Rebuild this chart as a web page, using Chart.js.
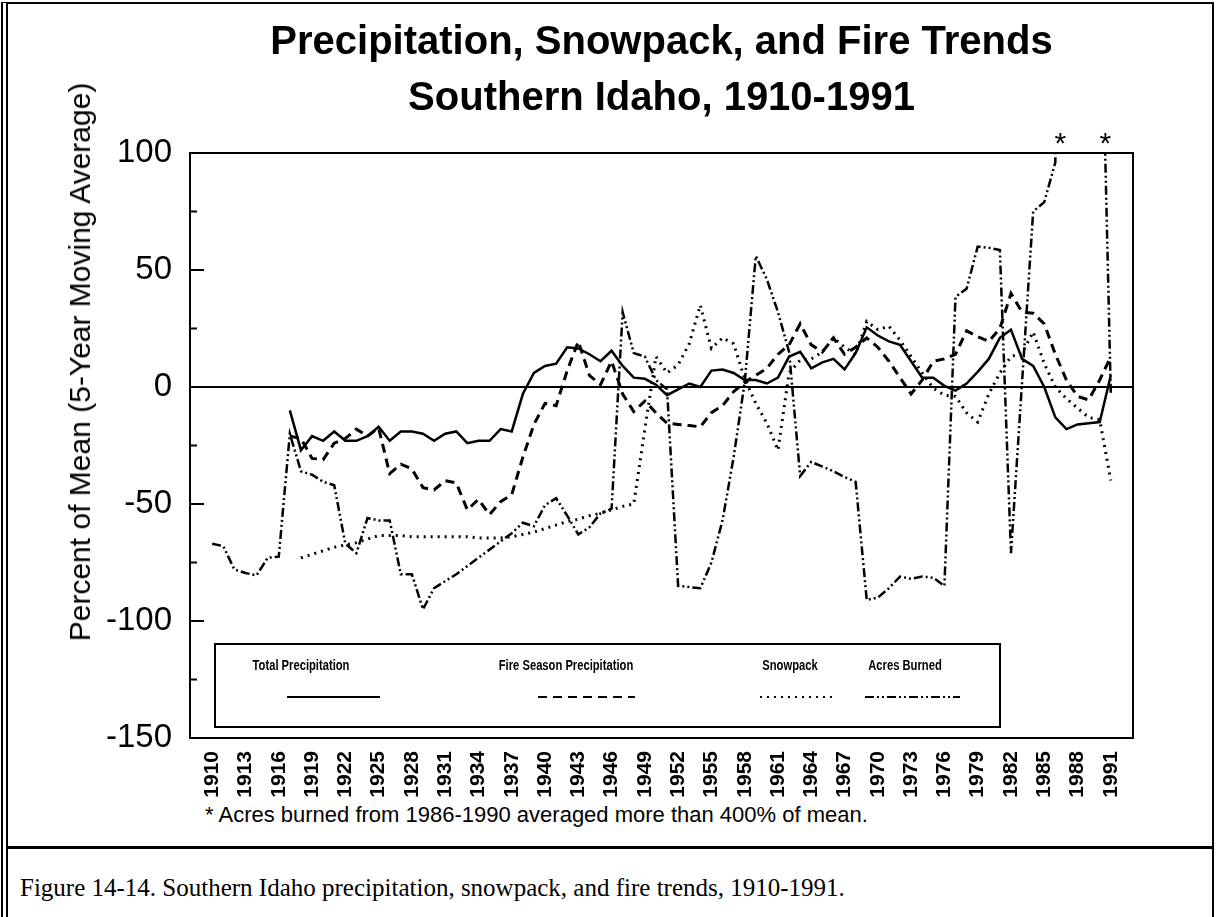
<!DOCTYPE html>
<html>
<head>
<meta charset="utf-8">
<title>Precipitation, Snowpack, and Fire Trends</title>
<script src="https://cdn.jsdelivr.net/npm/chart.js@4.4.1/dist/chart.umd.min.js"></script>
<style>
  html, body { margin: 0; padding: 0; background: #fff; }
  #page { position: relative; width: 1218px; height: 917px; overflow: hidden; font-family: "Liberation Sans", Arial, sans-serif; color: #000; }
  #frame { position: absolute; left: 1px; top: 2px; width: 1213px; height: 930px; border-left: 7px double #000; border-top: 2px solid #000; border-right: 2px solid #000; box-sizing: border-box; }
  #divider { position: absolute; left: 8px; top: 846px; width: 1206px; height: 3px; background: #000; }
  #chart { position: absolute; left: 0; top: 0; }
  #ytitle { position: absolute; left: 80px; top: 362px; transform: translate(-50%, -50%) rotate(-90deg); font-size: 30px; white-space: nowrap; }
  #note { position: absolute; left: 205px; top: 802px; font-size: 22px; line-height: 26px; white-space: nowrap; }
  #caption { position: absolute; left: 20px; top: 874px; font-family: "Liberation Serif", "Times New Roman", serif; font-size: 25px; line-height: 28px; white-space: nowrap; }
</style>
</head>
<body>
<div id="page">
  <div id="frame"></div>
  <div id="divider"></div>
  <canvas id="chart" width="1218" height="800"></canvas>
  <div id="ytitle">Percent of Mean (5-Year Moving Average)</div>
  <div id="note">* Acres burned from 1986-1990 averaged more than 400% of mean.</div>
  <div id="caption">Figure 14-14. Southern Idaho precipitation, snowpack, and fire trends, 1910-1991.</div>
</div>
<script>
// Données (pourcentage de la moyenne, moyenne mobile sur 5 ans)
const titleLines = ['Precipitation, Snowpack, and Fire Trends', 'Southern Idaho, 1910-1991'];
const seriesNames = ['Total Precipitation', 'Fire Season Precipitation', 'Snowpack', 'Acres Burned'];

const years = [
  1910, 1911, 1912, 1913, 1914, 1915, 1916, 1917, 1918, 1919,
  1920, 1921, 1922, 1923, 1924, 1925, 1926, 1927, 1928, 1929,
  1930, 1931, 1932, 1933, 1934, 1935, 1936, 1937, 1938, 1939,
  1940, 1941, 1942, 1943, 1944, 1945, 1946, 1947, 1948, 1949,
  1950, 1951, 1952, 1953, 1954, 1955, 1956, 1957, 1958, 1959,
  1960, 1961, 1962, 1963, 1964, 1965, 1966, 1967, 1968, 1969,
  1970, 1971, 1972, 1973, 1974, 1975, 1976, 1977, 1978, 1979,
  1980, 1981, 1982, 1983, 1984, 1985, 1986, 1987, 1988, 1989,
  1990, 1991
];

const totalPrecip = [
  null, null, null, null, null, null, null, -10, -27, -21,
  -23, -19, -23, -23, -21, -17, -23, -19, -19, -20,
  -23, -20, -19, -24, -23, -23, -18, -19, -3, 6,
  9, 10, 17, 16.5, 14, 11, 15.5, 9, 4, 3.5,
  1, -3.5, -1, 1.5, 0, 7, 7.5, 6, 3, 3,
  1.5, 4, 13, 15, 8, 10.5, 12, 7.5, 14.5, 25.5,
  22, 19.5, 18, 11, 4, 4, 0.5, -1.5, 1.5, 6.5,
  12, 21, 24.5, 12, 9, 0, -13, -18, -16, -15.5,
  -15, 5
];

const fireSeasonPrecip = [
  null, null, null, null, null, null, null, -21, -22, -30.5,
  -31, -24, -22, -18, -21, -17.5, -37, -33, -35, -43,
  -44, -40, -41, -52.5, -48, -54.5, -49, -46, -30, -16,
  -7, -8, 7, 19.5, 5, 1, 11, -3, -10.5, -6,
  -11, -15.5, -16, -16.5, -17, -11, -8, -2, 2, 5,
  8, 14, 18, 27, 18, 15, 21, 14, 17, 21,
  17, 11, 4, -3, 3, 11, 12, 14, 24, 21.5,
  19.5, 25, 40, 32, 31.5, 27, 14, 3, -4, -5.5,
  3, 13
];

const snowpack = [
  null, null, null, null, null, null, null, null, -73, -71.5,
  -70, -68.5, -67.5, -66.5, -65, -63.5, -63.5, -63.5, -64, -64,
  -64, -64, -64, -64, -64.5, -64.5, -64.5, -64, -63, -62,
  -60.5, -59, -57.5, -56.5, -55, -54, -52.5, -51, -50, -18,
  13, 6, 9.5, 18.5, 35, 16.5, 21, 18.5, 3.5, -7,
  -15.5, -27, 6, 11.5, 12, 15, 21, 17, 14, 28,
  24.5, 26, 20, 13, 6, -0.5, -3.5, -4, -11, -15,
  -3, 6, 13, 14.5, 23.5, 10, 0, -5, -9, -13,
  -14, -40
];

// 1987-1989 sortent du graphique (plus de 400 % de la moyenne)
const acresBurned = [
  -67, -68, -78, -79.5, -80.5, -73, -72.5, -20, -36, -37.5,
  -40.5, -42, -67, -71, -56, -57, -57, -80, -80, -95,
  -86, -83, -80, -76.5, -73, -69.5, -66, -62.5, -58, -59.5,
  -50.5, -47.5, -55, -63, -60, -54, -52, 32, 14.5, 13,
  3, -1, -85, -85.5, -86, -75, -57, -30, 2, 56,
  46, 32, 15, -38, -32, -34, -36, -38.5, -40.5, -91,
  -90, -86, -81, -82, -81, -81.5, -85, 38.5, 42, 60,
  59.5, 58.5, -71, 2, 75, 79, 96, 520, 640, 560,
  200, -3
];

const xTickYears = [1910, 1913, 1916, 1919, 1922, 1925, 1928, 1931, 1934, 1937, 1940, 1943, 1946, 1949,
  1952, 1955, 1958, 1961, 1964, 1967, 1970, 1973, 1976, 1979, 1982, 1985, 1988, 1991];
const yTickLabels = [100, 50, 0, -50, -100, -150];
const yMinorTicks = [75, 25, -25, -75, -125];
const yMajorTicks = [50, -50, -100];
const asteriskYears = [1986.45, 1990.5];

const FONT = '"Liberation Sans", Arial, sans-serif';
const dashes = [[], [9, 6], [2, 5], [9, 3, 2, 3, 2, 3]];
const widths = [2.5, 3, 3, 2.5];

function toPoints(values) {
    return years.map((yr, i) => ({ x: yr, y: values[i] }));
}

// Cadre, petites graduations, astérisques et légende encadrée
const decorations = {
    id: 'decorations',
    afterDatasetsDraw(chart) {
        const ctx = chart.ctx;
        const area = chart.chartArea;
        const xs = chart.scales.x;
        const ys = chart.scales.y;
        ctx.save();
        ctx.strokeStyle = '#000';
        ctx.fillStyle = '#000';
        ctx.setLineDash([]);

        ctx.lineWidth = 2;
        ctx.strokeRect(area.left, area.top, area.right - area.left, area.bottom - area.top);

        yMajorTicks.forEach(v => {
            const y = ys.getPixelForValue(v);
            ctx.beginPath(); ctx.moveTo(area.left, y); ctx.lineTo(area.left + 14, y); ctx.stroke();
        });
        yMinorTicks.forEach(v => {
            const y = ys.getPixelForValue(v);
            ctx.beginPath(); ctx.moveTo(area.left, y); ctx.lineTo(area.left + 7, y); ctx.stroke();
        });

        ctx.font = '30px ' + FONT;
        ctx.textAlign = 'center';
        ctx.textBaseline = 'middle';
        asteriskYears.forEach(yr => {
            ctx.fillText('*', xs.getPixelForValue(yr), area.top - 8);
        });

        // légende
        const box = { left: area.left + 25, top: area.top + 491, width: 785, height: 83 };
        ctx.lineWidth = 2;
        ctx.strokeRect(box.left, box.top, box.width, box.height);
        const textX = [86, 351, 575, 690];
        const sample = [[72, 165], [323, 420], [545, 620], [650, 745]];
        ctx.font = 'bold 14px ' + FONT;
        ctx.textBaseline = 'middle';
        seriesNames.forEach((name, i) => {
            ctx.save();
            ctx.translate(box.left + textX[i], box.top + 22);
            ctx.scale(0.8, 1);
            ctx.fillText(name, 0, 0);
            ctx.restore();
            ctx.lineWidth = 2;
            ctx.setLineDash(dashes[i]);
            ctx.beginPath();
            ctx.moveTo(box.left + sample[i][0], box.top + 53);
            ctx.lineTo(box.left + sample[i][1], box.top + 53);
            ctx.stroke();
            ctx.setLineDash([]);
        });
        ctx.restore();
    }
};

const datasets = seriesNames.map((name, i) => ({
    label: name,
    data: toPoints([totalPrecip, fireSeasonPrecip, snowpack, acresBurned][i]),
    borderColor: '#000',
    backgroundColor: '#000',
    borderWidth: widths[i],
    borderDash: dashes[i],
    pointRadius: 0,
    tension: 0,
    fill: false,
    spanGaps: false
}));

new Chart(document.getElementById('chart'), {
    type: 'line',
    data: { datasets: datasets },
    options: {
        responsive: false,
        animation: false,
        devicePixelRatio: 1,
        layout: { padding: { left: 0, right: 85, top: 0, bottom: 0 } },
        plugins: {
            legend: { display: false },
            tooltip: { enabled: false },
            title: {
                display: true,
                text: titleLines,
                fullSize: false,
                color: '#000',
                font: { family: FONT, size: 40, weight: 'bold', lineHeight: 1.4 },
                padding: { top: 15, bottom: 26 }
            }
        },
        scales: {
            x: {
                type: 'linear',
                min: 1908,
                max: 1993,
                afterBuildTicks: axis => { axis.ticks = xTickYears.map(v => ({ value: v })); },
                afterFit: axis => { axis.height = 62; },
                grid: { display: false, drawTicks: false },
                border: { display: true, color: '#000', width: 2 },
                ticks: {
                    autoSkip: false,
                    minRotation: 90,
                    maxRotation: 90,
                    padding: 13,
                    color: '#000',
                    font: { family: FONT, size: 21, weight: 'bold' },
                    callback: v => String(v)
                }
            },
            y: {
                type: 'linear',
                min: -150,
                max: 100,
                afterBuildTicks: axis => { axis.ticks = yTickLabels.map(v => ({ value: v })); },
                afterFit: axis => { axis.width = 190; },
                grid: {
                    drawTicks: false,
                    color: c => (c.tick && c.tick.value === 0 ? '#000' : 'rgba(0,0,0,0)'),
                    lineWidth: 2
                },
                border: { display: true, color: '#000', width: 2 },
                ticks: {
                    padding: 18,
                    color: '#000',
                    font: { family: FONT, size: 33 },
                    callback: v => String(v)
                }
            }
        }
    },
    plugins: [decorations]
});
</script>
</body>
</html>
